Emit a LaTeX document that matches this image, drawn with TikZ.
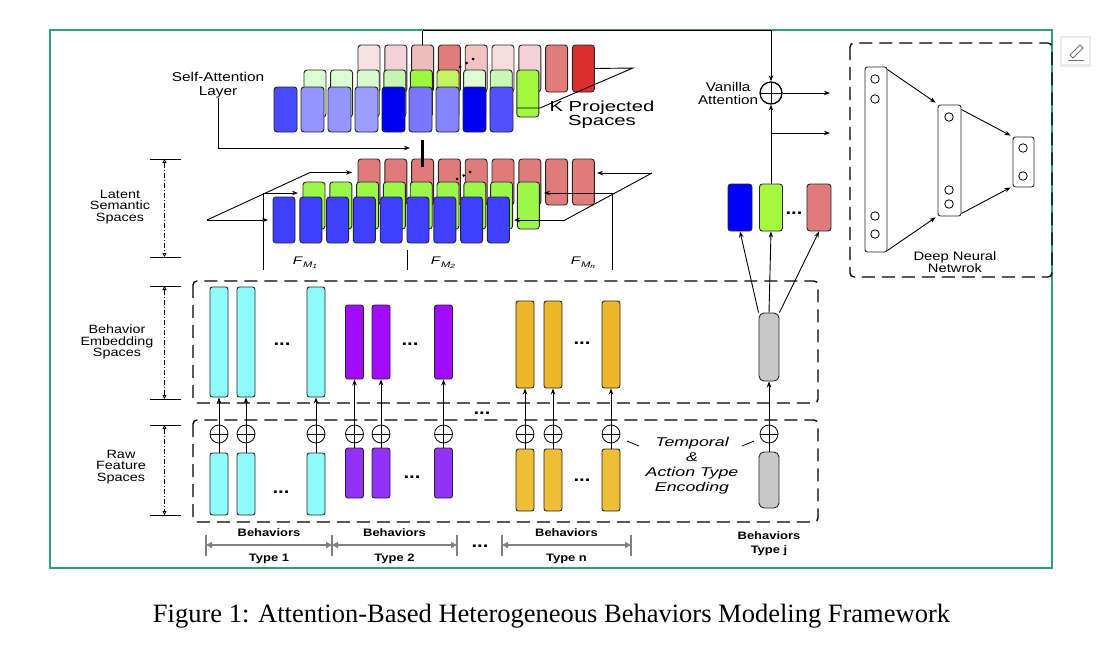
\documentclass[tikz,border=0pt]{standalone}
\usepackage{fontspec}
\setmainfont{Liberation Serif}
\newfontfamily\dfont[FakeStretch=1.2]{Liberation Sans}
\newfontfamily\wfont[FakeStretch=1.4]{Liberation Sans}
\usetikzlibrary{arrows.meta,positioning,calc}

% colours of the projected spaces
\definecolor{pkA}{HTML}{F7E1E1}\definecolor{pkB}{HTML}{F3D3D7}\definecolor{pkC}{HTML}{EFBDBD}
\definecolor{pkD}{HTML}{E07C7C}\definecolor{pkE}{HTML}{F2C3C3}\definecolor{pkF}{HTML}{F7DDDD}
\definecolor{pkG}{HTML}{F4D1D7}\definecolor{pkH}{HTML}{E07C7C}\definecolor{pkI}{HTML}{DC2F2F}
\definecolor{kgA}{HTML}{DCFCD3}\definecolor{kgB}{HTML}{DCFCD3}\definecolor{kgC}{HTML}{D9F9D1}
\definecolor{kgD}{HTML}{C5F5B1}\definecolor{kgE}{HTML}{9DF83B}\definecolor{kgF}{HTML}{C2F462}
\definecolor{kgG}{HTML}{DCFCD1}\definecolor{kgH}{HTML}{C9F8B5}\definecolor{kgI}{HTML}{A1F83D}
\definecolor{kbA}{HTML}{4949FF}\definecolor{kbB}{HTML}{9595FF}\definecolor{kbC}{HTML}{9595FF}
\definecolor{kbD}{HTML}{9D9DFF}\definecolor{kbE}{HTML}{0000F0}\definecolor{kbF}{HTML}{7777FF}
\definecolor{kbG}{HTML}{8585FF}\definecolor{kbH}{HTML}{0000F0}\definecolor{kbI}{HTML}{5151FF}
% latent spaces and behaviors
\definecolor{lred}{HTML}{E07B7B}\definecolor{lgrn}{HTML}{9BF84A}\definecolor{lblu}{HTML}{3F3FFF}
\definecolor{cyanE}{HTML}{8FFCFC}\definecolor{purE}{HTML}{A30BFF}\definecolor{purR}{HTML}{9231F8}
\definecolor{goldE}{HTML}{EDB72A}\definecolor{goldR}{HTML}{EEBE36}\definecolor{grayJ}{HTML}{C8C8C8}
\definecolor{blueJ}{HTML}{0000FF}\definecolor{greenJ}{HTML}{A6F83F}
\definecolor{framec}{HTML}{2E9E80}

\newcommand{\fmlabel}[1]{\textit{F}\raisebox{-2.5pt}{\fontsize{8}{8}\selectfont\textit{M}\raisebox{-1.5pt}{\fontsize{6}{6}\selectfont\textit{#1}}}}

\begin{document}
\begin{tikzpicture}[x=1pt,y=-1pt,
  cell/.style={draw=black!85,line width=0.9pt,rounded corners=3pt,inner sep=0pt,minimum width=22pt,minimum height=46pt},
  bar/.style={draw=black!85,line width=0.9pt,rounded corners=2.5pt,inner sep=0pt,minimum width=18pt},
  oplus/.style={circle,draw,line width=0.8pt,inner sep=0pt,minimum size=18pt,
    path picture={\draw[line width=0.8pt] (path picture bounding box.north)--(path picture bounding box.south)
      (path picture bounding box.west)--(path picture bounding box.east);}},
  neuron/.style={circle,draw,line width=0.8pt,inner sep=0pt,minimum size=8.5pt},
  lbl/.style={align=center,inner sep=0pt,font=\dfont\fontsize{12.5}{13}\selectfont},
  dots/.style={inner sep=0pt,anchor=base,font=\dfont\bfseries\fontsize{17}{17}\selectfont},
  arr/.style={-{Stealth[length=6pt,width=4.5pt]},line width=0.9pt},
  dbox/.style={draw,line width=1.4pt,dash pattern=on 13pt off 7pt,rounded corners=4pt},
  dimtick/.style={line width=1pt},
  dimarr/.style={{Triangle[open,length=4pt,width=4pt]}-{Triangle[open,length=4pt,width=4pt]},line width=0.8pt,dash pattern=on 5pt off 2pt on 1pt off 2pt},
  gtick/.style={draw=black!50,line width=1.6pt},
  garr/.style={{Triangle[length=6pt,width=6pt]}-{Triangle[length=6pt,width=6pt]},draw=black!50,line width=1.6pt}]
\useasboundingbox (0,0) rectangle (1107,670);
\fill[white] (0,0) rectangle (1107,670);
\draw[framec,line width=1.2pt] (50,30) rectangle (1052,568);

% K projected spaces
\foreach \c [count=\i] in {pkA,pkB,pkC,pkD,pkE,pkF,pkG,pkH,pkI}
  \node[cell,fill=\c,minimum height=47pt] (kp\i) at ({369+(\i-1)*26.8},68.5) {};
\foreach \c [count=\i] in {kgA,kgB,kgC,kgD,kgE,kgF,kgG,kgH,kgI}
  \node[cell,fill=\c,minimum height=47pt] (kg\i) at ({315+(\i-1)*26.6},93.5) {};
\coordinate (ka) at (633,68);
\coordinate (kb) at (540,108);
\coordinate (kc) at (517,108);
\draw[line width=0.9pt] (kp9.east) -- (ka) -- (kb) -- (kc);
\foreach \c [count=\i] in {kbA,kbB,kbC,kbD,kbE,kbF,kbG,kbH,kbI}
  \node[cell,fill=\c,minimum width=23pt,minimum height=45pt] (kb\i) at ({285.5+(\i-1)*27},109.5) {};
\foreach \p in {(460,67),(466.5,63),(473,59)} \fill \p circle (1.5);
\node[lbl,font=\wfont\fontsize{14.5}{14}\selectfont] (kps) at (602,115) {K Projected\\Spaces};

% self-attention
\node[lbl,font=\dfont\fontsize{12.8}{13.5}\selectfont] (salbl) at (218,85) {Self-Attention\\Layer};
\coordinate (sa) at (410,148);
\draw[arr] (salbl.south) |- (sa);

% latent semantic spaces
\foreach \i in {1,...,9}
  \node[cell,fill=lred] (lr\i) at ({369+(\i-1)*26.8},182) {};
\foreach \i in {1,...,9}
  \node[cell,fill=lgrn,minimum height=47pt] (lg\i) at ({314+(\i-1)*26.8},205.5) {};
\foreach \i in {1,...,9}
  \node[cell,fill=lblu] (lb\i) at ({284+(\i-1)*26.8},220) {};
\foreach \p in {(457,179),(463.5,175.5),(470,172)} \fill \p circle (1.5);
\coordinate (th) at (422.6,140);
\draw[line width=2.5pt] (th) -- ([yshift=-8pt]lr3.north);
\draw[line width=0.9pt] (kp3.north) -- ++(0,-14) coordinate (tc);
\coordinate (pa) at (207,220);
\coordinate (pb) at (310,172.5);
\coordinate (pc) at (352,172.5);
\coordinate (pd) at (263,193);
\coordinate (pe) at (298,193);
\coordinate (pf) at (268,220);
\coordinate (pg) at (263,270);
\draw[line width=0.9pt] (pa) -- (pb);
\draw[arr] (pb) -- (pc);
\draw[arr] (pd) -- (pe);
\draw[arr] (pa) -- (pf);
\draw[line width=0.9pt] (pd) -- (pg);
\coordinate (qa) at (652,173);
\coordinate (qb) at (565,220);
\coordinate (qc) at (597,173);
\coordinate (qd) at (612,193);
\coordinate (qe) at (544,193);
\coordinate (qf) at (514,220);
\coordinate (qg) at (612,270);
\draw[arr] (qa) -- (qc);
\draw[line width=0.9pt] (qa) -- (qb);
\draw[arr] (qb) -- (qf);
\draw[arr] (qd) -- (qe);
\draw[line width=0.9pt] (qd) -- (qg);
\coordinate (ma) at (407,250);
\coordinate (mb) at (407,270);
\draw[line width=0.9pt] (ma) -- (mb);
\node[lbl,font=\wfont\fontsize{11}{11}\selectfont] (fm1) at (305,263) {\fmlabel{1}};
\node[lbl,font=\wfont\fontsize{11}{11}\selectfont] (fm2) at (443,263) {\fmlabel{2}};
\node[lbl,font=\wfont\fontsize{11}{11}\selectfont] (fmn) at (583,263) {\fmlabel{n}};

% left dimension markers
\foreach \t/\b/\n in {159/257/ls,286/399/be,425/515/rf} {
  \coordinate (\n-t) at (164.5,\t);
  \coordinate (\n-b) at (164.5,\b);
  \draw[dimtick] ([xshift=-15pt]\n-t) -- ([xshift=16pt]\n-t);
  \draw[dimtick] ([xshift=-15pt]\n-b) -- ([xshift=16pt]\n-b);
  \draw[dimarr] (\n-t) -- (\n-b);
}
\node[lbl,font=\dfont\fontsize{12}{11.7}\selectfont] (lslbl) at (120,207) {Latent\\Semantic\\Spaces};
\node[lbl,font=\dfont\fontsize{12}{11.7}\selectfont] (belbl) at (117,342) {Behavior\\Embedding\\Spaces};
\node[lbl,font=\dfont\fontsize{12}{11.7}\selectfont] (rflbl) at (121,467) {Raw\\Feature\\Spaces};

% dashed areas
\draw[dbox] (193,281) rectangle (818,403);
\draw[dbox] (193,420) rectangle (818,522);
\draw[dbox] (850,43) rectangle (1052,277);

% behaviors of types 1, 2, n
\foreach \x/\n in {219/a1,246/a2,316/a3} {
  \node[bar,fill=cyanE,minimum height=110pt] (e\n) at (\x,342) {};
  \node[bar,fill=cyanE,minimum height=62pt] (w\n) at (\x,484) {};
  \node[oplus] (o\n) at (\x,434) {};
  \draw[arr] (w\n) -- (o\n) -- (e\n);
}
\foreach \x/\n in {354.5/b1,381/b2,443.5/b3} {
  \node[bar,fill=purE,minimum height=74pt] (e\n) at (\x,342) {};
  \node[bar,fill=purR,minimum height=50pt] (w\n) at (\x,473) {};
  \node[oplus] (o\n) at (\x,434) {};
  \draw[arr] (w\n) -- (o\n) -- (e\n);
}
\foreach \x/\n in {525/c1,553/c2,611/c3} {
  \node[bar,fill=goldE,minimum height=87pt] (e\n) at (\x,344.5) {};
  \node[bar,fill=goldR,minimum height=62pt] (w\n) at (\x,480) {};
  \node[oplus] (o\n) at (\x,434) {};
  \draw[arr] (w\n) -- (o\n) -- (e\n);
}
\node[dots] (d1) at (282,345) {...};
\node[dots] (d2) at (281,493) {...};
\node[dots] (d3) at (410,345) {...};
\node[dots] (d4) at (412,478) {...};
\node[dots] (d5) at (582,344) {...};
\node[dots] (d6) at (582,481) {...};
\node[dots] (d7) at (482,414) {...};

% behaviors of type j
\node[bar,fill=grayJ,minimum width=20pt,minimum height=68pt,rounded corners=5pt] (ej) at (769,347) {};
\node[bar,fill=grayJ,minimum width=20pt,minimum height=56pt,rounded corners=5pt] (wj) at (769,480) {};
\node[oplus] (oj) at (769,434) {};
\draw[arr] (wj) -- (oj) -- (ej);
\node[cell,fill=blueJ,minimum width=24pt,minimum height=47pt] (jb) at (740,207.5) {};
\node[cell,fill=greenJ,minimum width=23pt,minimum height=47pt] (jg) at (771,207.5) {};
\node[cell,fill=lred,minimum width=24pt,minimum height=47pt] (jr) at (819,207.5) {};
\node[dots] (d8) at (794,214) {...};
\draw[arr] (ej.north west) -- (jb.south);
\draw[arr] (ej.north) -- (jg.south);
\draw[arr] (ej.north east) -- (jr.south);
\node[lbl,font=\wfont\itshape\fontsize{12.7}{15}\selectfont] (tenc) at (692,465.5) {Temporal\\\&\\Action Type\\Encoding};
\coordinate (ta) at (627,441);
\coordinate (tb) at (639,446);
\coordinate (tc2) at (742,446);
\coordinate (td) at (754,441);
\draw[line width=0.8pt] (ta) -- (tb);
\draw[line width=0.8pt] (tc2) -- (td);

% vanilla attention
\node[oplus,minimum size=22pt,line width=1.3pt] (vadd) at (771,93) {};
\node[lbl,left=1pt of vadd,font=\dfont\fontsize{12.7}{13}\selectfont] (vlbl) {Vanilla\\Attention};
\draw[arr] (tc) -| (vadd.north);
\draw[arr] (jg.north) -- (vadd.south);
\coordinate (v1) at (830,93);
\coordinate (br) at (771,133);
\coordinate (v2) at (830,133);
\draw[arr] (vadd) -- (v1);
\draw[arr] (br) -- (v2);

% deep neural network
\node[bar,minimum width=22pt,minimum height=185pt] (n1) at (876,159.5) {};
\node[bar,minimum width=23pt,minimum height=111pt] (n2) at (949.5,160.5) {};
\node[bar,minimum width=21pt,minimum height=50pt] (n3) at (1023.5,162) {};
\foreach \x/\y [count=\i] in {875/79,875/99,875/216,875/234,949/117,949/190,949/204,1023/148,1023/176}
  \node[neuron] (u\i) at (\x,\y) {};
\draw[arr] ([yshift=-3pt]n1.north east) -- ([xshift=-2pt,yshift=2pt]n2.north west);
\draw[arr] ([yshift=2pt]n1.south east) -- ([xshift=-2pt,yshift=-1pt]n2.south west);
\draw[arr] ([yshift=-5pt]n2.north east) -- ([xshift=-2pt,yshift=1pt]n3.north west);
\draw[arr] ([yshift=3pt]n2.south east) -- ([xshift=-2pt]n3.south west);
\node[lbl,font=\dfont\fontsize{12.3}{12}\selectfont] (dnn) at (955,262) {Deep Neural\\Netwrok};

% behavior types
\foreach \x/\n in {206/g1,332/g2,457/g3,502/g4,631/g5} {
  \coordinate (\n) at (\x,545);
  \draw[gtick] ([yshift=10pt]\n) -- ([yshift=-11pt]\n);
}
\draw[garr] (g1) -- (g2);
\draw[garr] (g2) -- (g3);
\draw[garr] (g4) -- (g5);
\node[dots] (d9) at (480,547) {...};
\foreach \x/\t [count=\i] in {269/1,394.5/2,566.5/n} {
  \node[lbl,font=\dfont\bfseries\fontsize{10.8}{11}\selectfont] (bh\i) at (\x,533) {Behaviors};
  \node[lbl,font=\dfont\bfseries\fontsize{10.8}{11}\selectfont] (ty\i) at (\x,559) {Type \t};
}
\node[lbl,font=\dfont\bfseries\fontsize{10.8}{14}\selectfont] (bhj) at (769,544) {Behaviors\\Type j};

% edit button
\fill[black!8] (1060,36) rectangle (1091,67);
\fill[white] (1062,38) rectangle (1089,64);
\draw[black!55,line width=0.8pt] (1070,55) -- (1080,45) -- (1083,48) -- (1073,58) -- cycle;
\draw[black!55,line width=1pt] (1068,60) -- (1084,60);

% caption
\node[inner sep=0pt,font=\fontsize{26.5}{30}\selectfont] (cap) at (551.5,616) {Figure 1: Attention-Based Heterogeneous Behaviors Modeling Framework};
\end{tikzpicture}
\end{document}
